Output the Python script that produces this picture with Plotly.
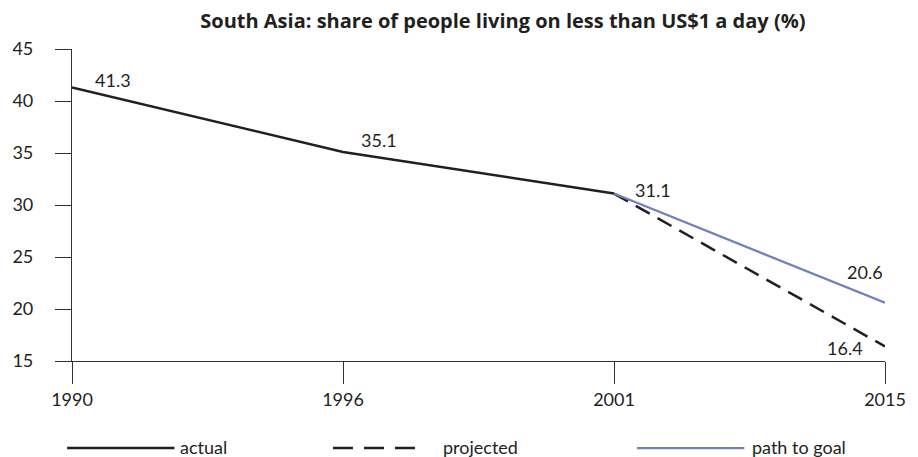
import plotly.graph_objects as go

# data
years = ["1990", "1996", "2001", "2015"]
actual_years = ["1990", "1996", "2001"]
actual_vals = [41.3, 35.1, 31.1]
proj_years = ["2001", "2015"]
proj_vals = [31.1, 16.4]
goal_years = ["2001", "2015"]
goal_vals = [31.1, 20.6]
series_names = ["actual", "projected", "path to goal"]
y_ticks = [15, 20, 25, 30, 35, 40, 45]

INK = "#231f20"
BLUE = "#6f80c0"
FONT = "Lato"

fig = go.Figure()

fig.add_trace(go.Scatter(x=proj_years, y=proj_vals, mode="lines", name=series_names[1],
                         line=dict(color=INK, width=2.5, dash="16px,9px")))
fig.add_trace(go.Scatter(x=goal_years, y=goal_vals, mode="lines", name=series_names[2],
                         line=dict(color=BLUE, width=2.2)))
fig.add_trace(go.Scatter(x=actual_years, y=actual_vals, mode="lines", name=series_names[0],
                         line=dict(color=INK, width=2.5)))

# value labels (category axis -> annotation x is the category index)
labels = [
    (actual_years[0], actual_vals[0], "left", "bottom", 21, -6),
    (actual_years[1], actual_vals[1], "left", "bottom", 16, -1),
    (actual_years[2], actual_vals[2], "left", "middle", 19, 4),
    (goal_years[1], goal_vals[1], "right", "middle", 0, 31),
    (proj_years[1], proj_vals[1], "right", "middle", -20, -2),
]
for x, y, xa, ya, dx, dy in labels:
    fig.add_annotation(x=years.index(x), y=y, text=f"{y:.1f}", showarrow=False,
                       xanchor=xa, yanchor=ya, xshift=dx, yshift=dy,
                       font=dict(family=FONT, size=18, color=INK))

# legend drawn below the axis
leg = [
    (series_names[0], INK, "solid", -0.006, 0.126, 0.13),
    (series_names[1], INK, "dash", 0.321, 0.430, 0.454),
    (series_names[2], BLUE, "solid", 0.695, 0.827, 0.834),
]
for name, col, dash, x0, x1, xt in leg:
    fig.add_shape(type="line", xref="paper", yref="paper", x0=x0, x1=x1, y0=-0.279, y1=-0.279,
                  line=dict(color=col, width=2.5 if col == INK else 2.2,
                            dash="20px,11px" if dash == "dash" else "solid"))
    fig.add_annotation(xref="paper", yref="paper", x=xt, y=-0.275, text=name, showarrow=False,
                       xanchor="left", yanchor="middle",
                       font=dict(family=FONT, size=18, color=INK))

fig.update_layout(
    width=918, height=457,
    margin=dict(l=68, r=25, t=49, b=96),
    plot_bgcolor="white", paper_bgcolor="white",
    showlegend=False,
    font=dict(family=FONT, size=18, color=INK),
    title=dict(text="<b>South Asia: share of people living on less than US$1 a day (%)</b>",
               x=0.53, xanchor="center", xref="paper", y=0.953, yref="container", yanchor="middle",
               font=dict(family="Open Sans", size=20, color=INK)),
)
fig.update_xaxes(type="category", categoryorder="array", categoryarray=years,
                 range=[0, 3], showgrid=False, zeroline=False,
                 showline=True, linecolor="#333", linewidth=1,
                 ticks="outside", ticklen=22, tickcolor="#333", tickwidth=1.2,
                 tickfont=dict(family=FONT, size=18, color=INK))
fig.update_yaxes(range=[15, 45], tickvals=y_ticks, showgrid=False, zeroline=False,
                 showline=True, linecolor="#333", linewidth=1.2,
                 ticks="outside", ticklen=16, tickcolor="#333", tickwidth=1.2,
                 ticklabelstandoff=18,
                 tickfont=dict(family=FONT, size=18, color=INK))

fig.write_html("out.html", config={"displayModeBar": False},
               post_script="document.body.style.margin='0';")
